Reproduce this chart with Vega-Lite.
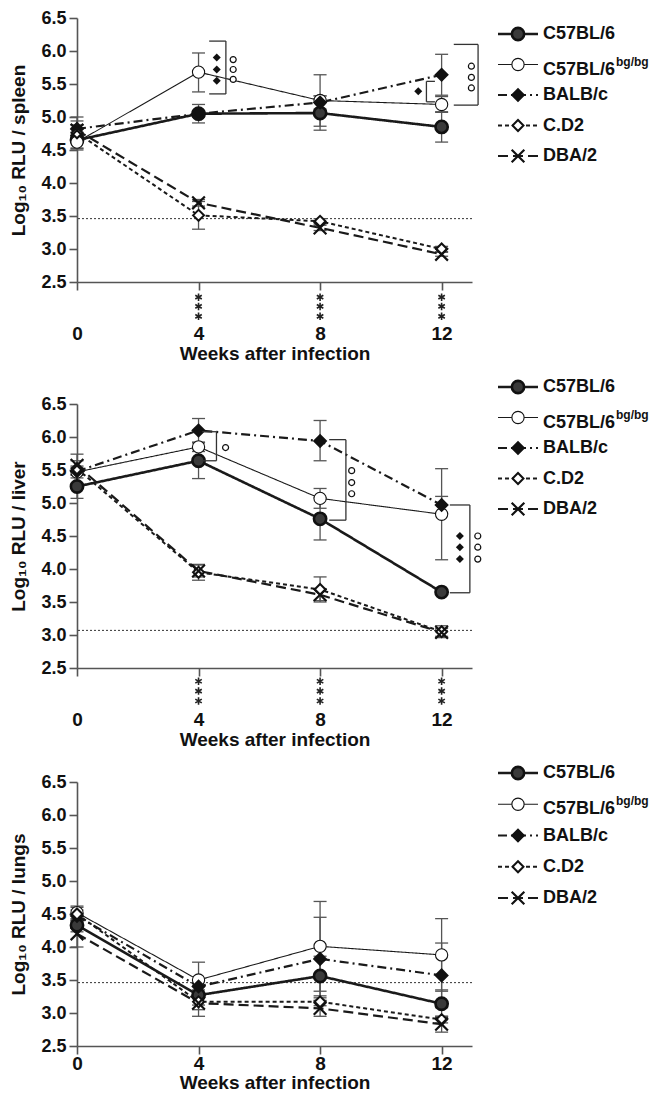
{
  "$schema": "https://vega.github.io/schema/vega-lite/v6.json",
  "background": "white",
  "padding": {"left": 9, "top": 9, "right": 0, "bottom": 0},
  "config": {
    "font": "Liberation Sans",
    "view": {"stroke": null},
    "scale": {"pointPadding": 0},
    "axis": {"domainColor": "#555", "domainWidth": 1.6, "tickColor": "#555", "tickWidth": 1.6, "tickSize": 8, "labelFont": "Liberation Sans", "labelFontWeight": "bold", "labelColor": "#111", "titleFont": "Liberation Sans", "titleFontWeight": "bold", "titleFontSize": 19, "titleColor": "#111", "grid": false, "labelFlush": false, "labelOverlap": false},
    "axisX": {"labelFontSize": 19, "titlePadding": 1},
    "axisY": {"labelFontSize": 18, "labelPadding": 3, "titlePadding": 12}
  },
  "datasets": {
    "main": [
      {"organ": "spleen", "strain": "C57BL/6", "week": 0, "mean": 4.65, "lo": 4.53, "hi": 4.77},
      {"organ": "spleen", "strain": "C57BL/6", "week": 4, "mean": 5.05, "lo": 4.91, "hi": 5.19},
      {"organ": "spleen", "strain": "C57BL/6", "week": 8, "mean": 5.06, "lo": 4.80, "hi": 5.32},
      {"organ": "spleen", "strain": "C57BL/6", "week": 12, "mean": 4.85, "lo": 4.62, "hi": 5.08},
      {"organ": "spleen", "strain": "C57BL/6bg/bg", "week": 0, "mean": 4.62, "lo": 4.50, "hi": 4.74},
      {"organ": "spleen", "strain": "C57BL/6bg/bg", "week": 4, "mean": 5.68, "lo": 5.38, "hi": 5.97},
      {"organ": "spleen", "strain": "C57BL/6bg/bg", "week": 8, "mean": 5.25, "lo": 4.86, "hi": 5.64},
      {"organ": "spleen", "strain": "C57BL/6bg/bg", "week": 12, "mean": 5.19, "lo": 5.07, "hi": 5.31},
      {"organ": "spleen", "strain": "BALB/c", "week": 0, "mean": 4.82, "lo": 4.70, "hi": 4.94},
      {"organ": "spleen", "strain": "BALB/c", "week": 4, "mean": 5.05, "lo": 5.00, "hi": 5.10},
      {"organ": "spleen", "strain": "BALB/c", "week": 8, "mean": 5.22, "lo": 5.12, "hi": 5.32},
      {"organ": "spleen", "strain": "BALB/c", "week": 12, "mean": 5.64, "lo": 5.33, "hi": 5.95},
      {"organ": "spleen", "strain": "C.D2", "week": 0, "mean": 4.76, "lo": 4.52, "hi": 5.00},
      {"organ": "spleen", "strain": "C.D2", "week": 4, "mean": 3.51, "lo": 3.30, "hi": 3.72},
      {"organ": "spleen", "strain": "C.D2", "week": 8, "mean": 3.42, "lo": 3.38, "hi": 3.46},
      {"organ": "spleen", "strain": "C.D2", "week": 12, "mean": 3.00, "lo": 2.96, "hi": 3.04},
      {"organ": "spleen", "strain": "DBA/2", "week": 0, "mean": 4.80, "lo": 4.72, "hi": 4.88},
      {"organ": "spleen", "strain": "DBA/2", "week": 4, "mean": 3.70, "lo": 3.65, "hi": 3.75},
      {"organ": "spleen", "strain": "DBA/2", "week": 8, "mean": 3.32, "lo": 3.28, "hi": 3.36},
      {"organ": "spleen", "strain": "DBA/2", "week": 12, "mean": 2.92, "lo": 2.89, "hi": 2.95},
      {"organ": "liver", "strain": "C57BL/6", "week": 0, "mean": 5.25, "lo": 5.07, "hi": 5.43},
      {"organ": "liver", "strain": "C57BL/6", "week": 4, "mean": 5.64, "lo": 5.37, "hi": 5.91},
      {"organ": "liver", "strain": "C57BL/6", "week": 8, "mean": 4.76, "lo": 4.44, "hi": 5.08},
      {"organ": "liver", "strain": "C57BL/6", "week": 12, "mean": 3.65, "lo": 3.62, "hi": 3.68},
      {"organ": "liver", "strain": "C57BL/6bg/bg", "week": 0, "mean": 5.47, "lo": 5.38, "hi": 5.56},
      {"organ": "liver", "strain": "C57BL/6bg/bg", "week": 4, "mean": 5.85, "lo": 5.78, "hi": 5.92},
      {"organ": "liver", "strain": "C57BL/6bg/bg", "week": 8, "mean": 5.07, "lo": 4.92, "hi": 5.22},
      {"organ": "liver", "strain": "C57BL/6bg/bg", "week": 12, "mean": 4.83, "lo": 4.14, "hi": 5.52},
      {"organ": "liver", "strain": "BALB/c", "week": 0, "mean": 5.48, "lo": 5.42, "hi": 5.54},
      {"organ": "liver", "strain": "BALB/c", "week": 4, "mean": 6.10, "lo": 5.92, "hi": 6.28},
      {"organ": "liver", "strain": "BALB/c", "week": 8, "mean": 5.94, "lo": 5.64, "hi": 6.25},
      {"organ": "liver", "strain": "BALB/c", "week": 12, "mean": 4.97, "lo": 4.84, "hi": 5.10},
      {"organ": "liver", "strain": "C.D2", "week": 0, "mean": 5.52, "lo": 5.30, "hi": 5.74},
      {"organ": "liver", "strain": "C.D2", "week": 4, "mean": 3.95, "lo": 3.83, "hi": 4.07},
      {"organ": "liver", "strain": "C.D2", "week": 8, "mean": 3.69, "lo": 3.50, "hi": 3.88},
      {"organ": "liver", "strain": "C.D2", "week": 12, "mean": 3.05, "lo": 2.96, "hi": 3.14},
      {"organ": "liver", "strain": "DBA/2", "week": 0, "mean": 5.57, "lo": 5.50, "hi": 5.64},
      {"organ": "liver", "strain": "DBA/2", "week": 4, "mean": 3.97, "lo": 3.88, "hi": 4.06},
      {"organ": "liver", "strain": "DBA/2", "week": 8, "mean": 3.61, "lo": 3.52, "hi": 3.70},
      {"organ": "liver", "strain": "DBA/2", "week": 12, "mean": 3.04, "lo": 2.98, "hi": 3.10},
      {"organ": "lungs", "strain": "C57BL/6", "week": 0, "mean": 4.33, "lo": 4.23, "hi": 4.43},
      {"organ": "lungs", "strain": "C57BL/6", "week": 4, "mean": 3.27, "lo": 3.12, "hi": 3.42},
      {"organ": "lungs", "strain": "C57BL/6", "week": 8, "mean": 3.56, "lo": 3.26, "hi": 3.86},
      {"organ": "lungs", "strain": "C57BL/6", "week": 12, "mean": 3.14, "lo": 2.93, "hi": 3.35},
      {"organ": "lungs", "strain": "C57BL/6bg/bg", "week": 0, "mean": 4.52, "lo": 4.42, "hi": 4.62},
      {"organ": "lungs", "strain": "C57BL/6bg/bg", "week": 4, "mean": 3.50, "lo": 3.23, "hi": 3.77},
      {"organ": "lungs", "strain": "C57BL/6bg/bg", "week": 8, "mean": 4.01, "lo": 3.33, "hi": 4.69},
      {"organ": "lungs", "strain": "C57BL/6bg/bg", "week": 12, "mean": 3.88, "lo": 3.33, "hi": 4.43},
      {"organ": "lungs", "strain": "BALB/c", "week": 0, "mean": 4.47, "lo": 4.38, "hi": 4.56},
      {"organ": "lungs", "strain": "BALB/c", "week": 4, "mean": 3.40, "lo": 3.30, "hi": 3.50},
      {"organ": "lungs", "strain": "BALB/c", "week": 8, "mean": 3.82, "lo": 3.19, "hi": 4.45},
      {"organ": "lungs", "strain": "BALB/c", "week": 12, "mean": 3.57, "lo": 3.08, "hi": 4.06},
      {"organ": "lungs", "strain": "C.D2", "week": 0, "mean": 4.50, "lo": 4.40, "hi": 4.60},
      {"organ": "lungs", "strain": "C.D2", "week": 4, "mean": 3.17, "lo": 3.05, "hi": 3.29},
      {"organ": "lungs", "strain": "C.D2", "week": 8, "mean": 3.17, "lo": 3.11, "hi": 3.23},
      {"organ": "lungs", "strain": "C.D2", "week": 12, "mean": 2.90, "lo": 2.85, "hi": 2.95},
      {"organ": "lungs", "strain": "DBA/2", "week": 0, "mean": 4.20, "lo": 4.00, "hi": 4.40},
      {"organ": "lungs", "strain": "DBA/2", "week": 4, "mean": 3.15, "lo": 2.95, "hi": 3.35},
      {"organ": "lungs", "strain": "DBA/2", "week": 8, "mean": 3.07, "lo": 2.95, "hi": 3.19},
      {"organ": "lungs", "strain": "DBA/2", "week": 12, "mean": 2.83, "lo": 2.71, "hi": 2.95}
    ],
    "limits": [
      {"organ": "spleen", "limit": 3.46},
      {"organ": "liver", "limit": 3.07},
      {"organ": "lungs", "limit": 3.46}
    ],
    "brackets": [
      {"organ": "spleen", "x": 4.35, "x2": 4.9, "y": 6.15, "y2": 6.15},
      {"organ": "spleen", "x": 4.9, "x2": 4.9, "y": 5.35, "y2": 6.15},
      {"organ": "spleen", "x": 4.35, "x2": 4.9, "y": 5.35, "y2": 5.35},
      {"organ": "spleen", "x": 11.5, "x2": 11.78, "y": 5.54, "y2": 5.54},
      {"organ": "spleen", "x": 11.5, "x2": 11.5, "y": 5.23, "y2": 5.54},
      {"organ": "spleen", "x": 11.5, "x2": 11.78, "y": 5.23, "y2": 5.23},
      {"organ": "spleen", "x": 12.4, "x2": 13.2, "y": 6.10, "y2": 6.10},
      {"organ": "spleen", "x": 13.2, "x2": 13.2, "y": 5.18, "y2": 6.10},
      {"organ": "spleen", "x": 12.4, "x2": 13.2, "y": 5.18, "y2": 5.18},
      {"organ": "liver", "x": 4.12, "x2": 4.59, "y": 6.08, "y2": 6.08},
      {"organ": "liver", "x": 4.59, "x2": 4.59, "y": 5.64, "y2": 6.08},
      {"organ": "liver", "x": 4.12, "x2": 4.59, "y": 5.64, "y2": 5.64},
      {"organ": "liver", "x": 8.3, "x2": 8.85, "y": 5.96, "y2": 5.96},
      {"organ": "liver", "x": 8.85, "x2": 8.85, "y": 4.74, "y2": 5.96},
      {"organ": "liver", "x": 8.3, "x2": 8.85, "y": 4.74, "y2": 4.74},
      {"organ": "liver", "x": 12.27, "x2": 12.93, "y": 4.97, "y2": 4.97},
      {"organ": "liver", "x": 12.93, "x2": 12.93, "y": 3.64, "y2": 4.97},
      {"organ": "liver", "x": 12.27, "x2": 12.93, "y": 3.64, "y2": 3.64}
    ],
    "sig": [
      {"organ": "spleen", "kind": "diamond", "x": 4.6, "y": 5.90},
      {"organ": "spleen", "kind": "diamond", "x": 4.6, "y": 5.72},
      {"organ": "spleen", "kind": "diamond", "x": 4.6, "y": 5.55},
      {"organ": "spleen", "kind": "diamond", "x": 11.23, "y": 5.39},
      {"organ": "spleen", "kind": "circle", "x": 5.14, "y": 5.87},
      {"organ": "spleen", "kind": "circle", "x": 5.14, "y": 5.72},
      {"organ": "spleen", "kind": "circle", "x": 5.14, "y": 5.57},
      {"organ": "spleen", "kind": "circle", "x": 12.98, "y": 5.77},
      {"organ": "spleen", "kind": "circle", "x": 12.98, "y": 5.60},
      {"organ": "spleen", "kind": "circle", "x": 12.98, "y": 5.44},
      {"organ": "liver", "kind": "circle", "x": 4.89, "y": 5.84},
      {"organ": "liver", "kind": "circle", "x": 9.04, "y": 5.49},
      {"organ": "liver", "kind": "circle", "x": 9.04, "y": 5.31},
      {"organ": "liver", "kind": "circle", "x": 9.04, "y": 5.14},
      {"organ": "liver", "kind": "diamond", "x": 12.6, "y": 4.50},
      {"organ": "liver", "kind": "diamond", "x": 12.6, "y": 4.33},
      {"organ": "liver", "kind": "diamond", "x": 12.6, "y": 4.15},
      {"organ": "liver", "kind": "circle", "x": 13.19, "y": 4.50},
      {"organ": "liver", "kind": "circle", "x": 13.19, "y": 4.33},
      {"organ": "liver", "kind": "circle", "x": 13.19, "y": 4.15}
    ],
    "stars": [
      {"organ": "spleen", "week": 4, "y": 2.27}, {"organ": "spleen", "week": 4, "y": 2.13}, {"organ": "spleen", "week": 4, "y": 1.98},
      {"organ": "spleen", "week": 8, "y": 2.27}, {"organ": "spleen", "week": 8, "y": 2.13}, {"organ": "spleen", "week": 8, "y": 1.98},
      {"organ": "spleen", "week": 12, "y": 2.27}, {"organ": "spleen", "week": 12, "y": 2.13}, {"organ": "spleen", "week": 12, "y": 1.98},
      {"organ": "liver", "week": 4, "y": 2.30}, {"organ": "liver", "week": 4, "y": 2.15}, {"organ": "liver", "week": 4, "y": 2.0},
      {"organ": "liver", "week": 8, "y": 2.30}, {"organ": "liver", "week": 8, "y": 2.15}, {"organ": "liver", "week": 8, "y": 2.0},
      {"organ": "liver", "week": 12, "y": 2.30}, {"organ": "liver", "week": 12, "y": 2.15}, {"organ": "liver", "week": 12, "y": 2.0}
    ],
    "legend": [
      {"strain": "C57BL/6", "label": "C57BL/6", "sup": ""},
      {"strain": "C57BL/6bg/bg", "label": "C57BL/6", "sup": "bg/bg"},
      {"strain": "BALB/c", "label": "BALB/c", "sup": ""},
      {"strain": "C.D2", "label": "C.D2", "sup": ""},
      {"strain": "DBA/2", "label": "DBA/2", "sup": ""}
    ]
  },
  "spacing": 12,
  "resolve": {"scale": {"x": "independent", "y": "independent"}},
  "vconcat": [
    {
      "bounds": "flush",
      "spacing": 26,
      "resolve": {"scale": {"x": "independent", "y": "independent"}},
      "hconcat": [
        {
          "width": 395, "height": 264,
          "layer": [
            {"data": {"name": "main"}, "transform": [{"filter": "datum.organ === 'spleen'"}], "mark": {"type": "rule", "color": "#555", "strokeWidth": 1.3}, "encoding": {
              "x": {"field": "week", "type": "quantitative", "title": "Weeks after infection", "scale": {"domain": [0, 13], "nice": false, "zero": false}, "axis": {"values": [0, 4, 8, 12], "labelPadding": 34, "labelOverlap": false}},
              "y": {"field": "lo", "type": "quantitative", "title": "Log₁₀ RLU / spleen", "scale": {"domain": [2.5, 6.5], "nice": false, "zero": false}, "axis": {"values": [2.5, 3, 3.5, 4, 4.5, 5, 5.5, 6, 6.5], "format": ".1f", "labelOverlap": false}},
              "y2": {"field": "hi"}}},
            {"data": {"name": "limits"}, "transform": [{"filter": "datum.organ === 'spleen'"}], "mark": {"type": "rule", "color": "#333", "strokeWidth": 1, "strokeDash": [2, 2]}, "encoding": {"y": {"field": "limit", "type": "quantitative", "title": "Log₁₀ RLU / spleen", "axis": {"values": [2.5, 3, 3.5, 4, 4.5, 5, 5.5, 6, 6.5], "format": ".1f", "labelOverlap": false}}}},
            {"data": {"name": "main"}, "transform": [{"filter": "datum.organ === 'spleen'"}], "mark": {"type": "tick", "orient": "horizontal", "color": "#555", "size": 13, "thickness": 1.3, "opacity": 1}, "encoding": {"x": {"field": "week", "type": "quantitative", "title": "Weeks after infection", "axis": {"values": [0, 4, 8, 12], "labelPadding": 34, "labelOverlap": false}}, "y": {"field": "lo", "type": "quantitative", "title": "Log₁₀ RLU / spleen", "axis": {"values": [2.5, 3, 3.5, 4, 4.5, 5, 5.5, 6, 6.5], "format": ".1f", "labelOverlap": false}}}},
            {"data": {"name": "main"}, "transform": [{"filter": "datum.organ === 'spleen'"}], "mark": {"type": "tick", "orient": "horizontal", "color": "#555", "size": 13, "thickness": 1.3, "opacity": 1}, "encoding": {"x": {"field": "week", "type": "quantitative", "title": "Weeks after infection", "axis": {"values": [0, 4, 8, 12], "labelPadding": 34, "labelOverlap": false}}, "y": {"field": "hi", "type": "quantitative", "title": "Log₁₀ RLU / spleen", "axis": {"values": [2.5, 3, 3.5, 4, 4.5, 5, 5.5, 6, 6.5], "format": ".1f", "labelOverlap": false}}}},
            {"data": {"name": "main"}, "transform": [{"filter": "datum.organ === 'spleen'"}], "mark": {"type": "line", "color": "#1a1a1a"}, "encoding": {
              "x": {"field": "week", "type": "quantitative", "title": "Weeks after infection", "axis": {"values": [0, 4, 8, 12], "labelPadding": 34, "labelOverlap": false}},
              "y": {"field": "mean", "type": "quantitative", "title": "Log₁₀ RLU / spleen", "axis": {"values": [2.5, 3, 3.5, 4, 4.5, 5, 5.5, 6, 6.5], "format": ".1f", "labelOverlap": false}},
              "strokeDash": {"field": "strain", "type": "nominal", "scale": {"domain": ["C57BL/6", "C57BL/6bg/bg", "BALB/c", "C.D2", "DBA/2"], "range": [[1, 0], [1, 0], [9, 4, 2, 4], [4, 3], [10, 5]]}, "legend": null},
              "strokeWidth": {"field": "strain", "type": "nominal", "scale": {"type": "ordinal", "domain": ["C57BL/6", "C57BL/6bg/bg", "BALB/c", "C.D2", "DBA/2"], "range": [2.6, 1.1, 2.2, 2, 2.2]}, "legend": null}}},
            {"data": {"name": "main"}, "transform": [{"filter": "datum.organ === 'spleen'"}], "mark": {"type": "point", "stroke": "#111", "opacity": 1, "fillOpacity": 1, "strokeOpacity": 1}, "encoding": {
              "x": {"field": "week", "type": "quantitative", "title": "Weeks after infection", "axis": {"values": [0, 4, 8, 12], "labelPadding": 34, "labelOverlap": false}},
              "y": {"field": "mean", "type": "quantitative", "title": "Log₁₀ RLU / spleen", "axis": {"values": [2.5, 3, 3.5, 4, 4.5, 5, 5.5, 6, 6.5], "format": ".1f", "labelOverlap": false}},
              "shape": {"field": "strain", "type": "nominal", "scale": {"domain": ["C57BL/6", "C57BL/6bg/bg", "BALB/c", "C.D2", "DBA/2"], "range": ["circle", "circle", "diamond", "diamond", "M-1,-1L1,1M-1,1L1,-1"]}, "legend": null},
              "fill": {"field": "strain", "type": "nominal", "scale": {"domain": ["C57BL/6", "C57BL/6bg/bg", "BALB/c", "C.D2", "DBA/2"], "range": ["#3a3a3a", "#ffffff", "#111111", "#ffffff", "#111111"]}, "legend": null},
              "size": {"field": "strain", "type": "nominal", "scale": {"type": "ordinal", "domain": ["C57BL/6", "C57BL/6bg/bg", "BALB/c", "C.D2", "DBA/2"], "range": [150, 150, 130, 120, 160]}, "legend": null},
              "strokeWidth": {"field": "strain", "type": "nominal", "scale": {"type": "ordinal", "domain": ["C57BL/6", "C57BL/6bg/bg", "BALB/c", "C.D2", "DBA/2"], "range": [1.2, 1.2, 1.2, 1.3, 2.4]}, "legend": null}}},
            {"data": {"name": "brackets"}, "transform": [{"filter": "datum.organ === 'spleen'"}], "mark": {"type": "rule", "color": "#333", "strokeWidth": 1.3}, "encoding": {"x": {"field": "x", "type": "quantitative", "title": "Weeks after infection", "axis": {"values": [0, 4, 8, 12], "labelPadding": 34, "labelOverlap": false}}, "x2": {"field": "x2"}, "y": {"field": "y", "type": "quantitative", "title": "Log₁₀ RLU / spleen", "axis": {"values": [2.5, 3, 3.5, 4, 4.5, 5, 5.5, 6, 6.5], "format": ".1f", "labelOverlap": false}}, "y2": {"field": "y2"}}},
            {"data": {"name": "sig"}, "transform": [{"filter": "datum.organ === 'spleen' && datum.kind === 'diamond'"}], "mark": {"type": "point", "shape": "diamond", "filled": true, "color": "#111", "size": 64, "opacity": 1}, "encoding": {"x": {"field": "x", "type": "quantitative", "title": "Weeks after infection", "axis": {"values": [0, 4, 8, 12], "labelPadding": 34, "labelOverlap": false}}, "y": {"field": "y", "type": "quantitative", "title": "Log₁₀ RLU / spleen", "axis": {"values": [2.5, 3, 3.5, 4, 4.5, 5, 5.5, 6, 6.5], "format": ".1f", "labelOverlap": false}}}},
            {"data": {"name": "sig"}, "transform": [{"filter": "datum.organ === 'spleen' && datum.kind === 'circle'"}], "mark": {"type": "point", "shape": "circle", "fill": "white", "stroke": "#111", "strokeWidth": 1.2, "size": 36, "opacity": 1}, "encoding": {"x": {"field": "x", "type": "quantitative", "title": "Weeks after infection", "axis": {"values": [0, 4, 8, 12], "labelPadding": 34, "labelOverlap": false}}, "y": {"field": "y", "type": "quantitative", "title": "Log₁₀ RLU / spleen", "axis": {"values": [2.5, 3, 3.5, 4, 4.5, 5, 5.5, 6, 6.5], "format": ".1f", "labelOverlap": false}}}},
            {"data": {"name": "stars"}, "transform": [{"filter": "datum.organ === 'spleen'"}], "mark": {"type": "point", "shape": "M0,-1L0,1M-0.87,-0.5L0.87,0.5M-0.87,0.5L0.87,-0.5", "stroke": "#222", "strokeWidth": 1.6, "size": 56, "opacity": 1}, "encoding": {"x": {"field": "week", "type": "quantitative", "title": "Weeks after infection", "axis": {"values": [0, 4, 8, 12], "labelPadding": 34, "labelOverlap": false}}, "y": {"field": "y", "type": "quantitative", "title": "Log₁₀ RLU / spleen", "axis": {"values": [2.5, 3, 3.5, 4, 4.5, 5, 5.5, 6, 6.5], "format": ".1f", "labelOverlap": false}}}}
          ]
        },
        {
          "width": 150, "height": 264,
          "data": {"name": "legend"},
          "encoding": {"y": {"field": "strain", "type": "nominal", "scale": {"type": "point", "padding": 0, "domain": ["C57BL/6", "C57BL/6bg/bg", "BALB/c", "C.D2", "DBA/2"], "range": [16, 138]}, "axis": null}},
          "layer": [
            {"mark": {"type": "rule", "color": "#1a1a1a"}, "encoding": {
              "x": {"datum": 0, "type": "quantitative", "scale": {"domain": [0, 150], "range": [0, 150], "nice": false, "zero": false}, "axis": null},
              "x2": {"datum": 40},
              "strokeDash": {"field": "strain", "type": "nominal", "scale": {"domain": ["C57BL/6", "C57BL/6bg/bg", "BALB/c", "C.D2", "DBA/2"], "range": [[1, 0], [1, 0], [4, 3], [4, 3], [10, 5]]}, "legend": null},
              "strokeWidth": {"field": "strain", "type": "nominal", "scale": {"type": "ordinal", "domain": ["C57BL/6", "C57BL/6bg/bg", "BALB/c", "C.D2", "DBA/2"], "range": [2.6, 1.1, 2.2, 2, 2.2]}, "legend": null}}},
            {"mark": {"type": "point", "stroke": "#111", "opacity": 1, "fillOpacity": 1, "strokeOpacity": 1}, "encoding": {
              "x": {"datum": 20, "type": "quantitative", "axis": null},
              "shape": {"field": "strain", "type": "nominal", "scale": {"domain": ["C57BL/6", "C57BL/6bg/bg", "BALB/c", "C.D2", "DBA/2"], "range": ["circle", "circle", "diamond", "diamond", "M-1,-1L1,1M-1,1L1,-1"]}, "legend": null},
              "fill": {"field": "strain", "type": "nominal", "scale": {"domain": ["C57BL/6", "C57BL/6bg/bg", "BALB/c", "C.D2", "DBA/2"], "range": ["#3a3a3a", "#ffffff", "#111111", "#ffffff", "#111111"]}, "legend": null},
              "size": {"field": "strain", "type": "nominal", "scale": {"type": "ordinal", "domain": ["C57BL/6", "C57BL/6bg/bg", "BALB/c", "C.D2", "DBA/2"], "range": [150, 150, 130, 120, 160]}, "legend": null},
              "strokeWidth": {"field": "strain", "type": "nominal", "scale": {"type": "ordinal", "domain": ["C57BL/6", "C57BL/6bg/bg", "BALB/c", "C.D2", "DBA/2"], "range": [1.2, 1.2, 1.2, 1.3, 2.4]}, "legend": null}}},
            {"transform": [{"filter": "datum.sup === ''"}], "mark": {"type": "text", "align": "left", "baseline": "middle", "fontSize": 18, "fontWeight": "bold", "color": "#111"}, "encoding": {"x": {"datum": 45, "type": "quantitative", "axis": null}, "text": {"field": "label"}}},
            {"transform": [{"filter": "datum.sup !== ''"}], "mark": {"type": "text", "align": "left", "baseline": "middle", "fontSize": 18, "fontWeight": "bold", "color": "#111", "dy": 5}, "encoding": {"x": {"datum": 45, "type": "quantitative", "axis": null}, "text": {"field": "label"}}},
            {"transform": [{"filter": "datum.sup !== ''"}], "mark": {"type": "text", "align": "left", "baseline": "middle", "fontSize": 12, "fontWeight": "bold", "color": "#111", "dy": -3}, "encoding": {"x": {"datum": 118, "type": "quantitative", "axis": null}, "text": {"field": "sup"}}}
          ]
        }
      ]
    },
    {
      "bounds": "flush",
      "spacing": 26,
      "resolve": {"scale": {"x": "independent", "y": "independent"}},
      "hconcat": [
        {
          "width": 395, "height": 264,
          "layer": [
            {"data": {"name": "main"}, "transform": [{"filter": "datum.organ === 'liver'"}], "mark": {"type": "rule", "color": "#555", "strokeWidth": 1.3}, "encoding": {
              "x": {"field": "week", "type": "quantitative", "title": "Weeks after infection", "scale": {"domain": [0, 13], "nice": false, "zero": false}, "axis": {"values": [0, 4, 8, 12], "labelPadding": 34, "labelOverlap": false}},
              "y": {"field": "lo", "type": "quantitative", "title": "Log₁₀ RLU / liver", "scale": {"domain": [2.5, 6.5], "nice": false, "zero": false}, "axis": {"values": [2.5, 3, 3.5, 4, 4.5, 5, 5.5, 6, 6.5], "format": ".1f", "labelOverlap": false}},
              "y2": {"field": "hi"}}},
            {"data": {"name": "limits"}, "transform": [{"filter": "datum.organ === 'liver'"}], "mark": {"type": "rule", "color": "#333", "strokeWidth": 1, "strokeDash": [2, 2]}, "encoding": {"y": {"field": "limit", "type": "quantitative", "title": "Log₁₀ RLU / liver", "axis": {"values": [2.5, 3, 3.5, 4, 4.5, 5, 5.5, 6, 6.5], "format": ".1f", "labelOverlap": false}}}},
            {"data": {"name": "main"}, "transform": [{"filter": "datum.organ === 'liver'"}], "mark": {"type": "tick", "orient": "horizontal", "color": "#555", "size": 13, "thickness": 1.3, "opacity": 1}, "encoding": {"x": {"field": "week", "type": "quantitative", "title": "Weeks after infection", "axis": {"values": [0, 4, 8, 12], "labelPadding": 34, "labelOverlap": false}}, "y": {"field": "lo", "type": "quantitative", "title": "Log₁₀ RLU / liver", "axis": {"values": [2.5, 3, 3.5, 4, 4.5, 5, 5.5, 6, 6.5], "format": ".1f", "labelOverlap": false}}}},
            {"data": {"name": "main"}, "transform": [{"filter": "datum.organ === 'liver'"}], "mark": {"type": "tick", "orient": "horizontal", "color": "#555", "size": 13, "thickness": 1.3, "opacity": 1}, "encoding": {"x": {"field": "week", "type": "quantitative", "title": "Weeks after infection", "axis": {"values": [0, 4, 8, 12], "labelPadding": 34, "labelOverlap": false}}, "y": {"field": "hi", "type": "quantitative", "title": "Log₁₀ RLU / liver", "axis": {"values": [2.5, 3, 3.5, 4, 4.5, 5, 5.5, 6, 6.5], "format": ".1f", "labelOverlap": false}}}},
            {"data": {"name": "main"}, "transform": [{"filter": "datum.organ === 'liver'"}], "mark": {"type": "line", "color": "#1a1a1a"}, "encoding": {
              "x": {"field": "week", "type": "quantitative", "title": "Weeks after infection", "axis": {"values": [0, 4, 8, 12], "labelPadding": 34, "labelOverlap": false}},
              "y": {"field": "mean", "type": "quantitative", "title": "Log₁₀ RLU / liver", "axis": {"values": [2.5, 3, 3.5, 4, 4.5, 5, 5.5, 6, 6.5], "format": ".1f", "labelOverlap": false}},
              "strokeDash": {"field": "strain", "type": "nominal", "scale": {"domain": ["C57BL/6", "C57BL/6bg/bg", "BALB/c", "C.D2", "DBA/2"], "range": [[1, 0], [1, 0], [9, 4, 2, 4], [4, 3], [10, 5]]}, "legend": null},
              "strokeWidth": {"field": "strain", "type": "nominal", "scale": {"type": "ordinal", "domain": ["C57BL/6", "C57BL/6bg/bg", "BALB/c", "C.D2", "DBA/2"], "range": [2.6, 1.1, 2.2, 2, 2.2]}, "legend": null}}},
            {"data": {"name": "main"}, "transform": [{"filter": "datum.organ === 'liver'"}], "mark": {"type": "point", "stroke": "#111", "opacity": 1, "fillOpacity": 1, "strokeOpacity": 1}, "encoding": {
              "x": {"field": "week", "type": "quantitative", "title": "Weeks after infection", "axis": {"values": [0, 4, 8, 12], "labelPadding": 34, "labelOverlap": false}},
              "y": {"field": "mean", "type": "quantitative", "title": "Log₁₀ RLU / liver", "axis": {"values": [2.5, 3, 3.5, 4, 4.5, 5, 5.5, 6, 6.5], "format": ".1f", "labelOverlap": false}},
              "shape": {"field": "strain", "type": "nominal", "scale": {"domain": ["C57BL/6", "C57BL/6bg/bg", "BALB/c", "C.D2", "DBA/2"], "range": ["circle", "circle", "diamond", "diamond", "M-1,-1L1,1M-1,1L1,-1"]}, "legend": null},
              "fill": {"field": "strain", "type": "nominal", "scale": {"domain": ["C57BL/6", "C57BL/6bg/bg", "BALB/c", "C.D2", "DBA/2"], "range": ["#3a3a3a", "#ffffff", "#111111", "#ffffff", "#111111"]}, "legend": null},
              "size": {"field": "strain", "type": "nominal", "scale": {"type": "ordinal", "domain": ["C57BL/6", "C57BL/6bg/bg", "BALB/c", "C.D2", "DBA/2"], "range": [150, 150, 130, 120, 160]}, "legend": null},
              "strokeWidth": {"field": "strain", "type": "nominal", "scale": {"type": "ordinal", "domain": ["C57BL/6", "C57BL/6bg/bg", "BALB/c", "C.D2", "DBA/2"], "range": [1.2, 1.2, 1.2, 1.3, 2.4]}, "legend": null}}},
            {"data": {"name": "brackets"}, "transform": [{"filter": "datum.organ === 'liver'"}], "mark": {"type": "rule", "color": "#333", "strokeWidth": 1.3}, "encoding": {"x": {"field": "x", "type": "quantitative", "title": "Weeks after infection", "axis": {"values": [0, 4, 8, 12], "labelPadding": 34, "labelOverlap": false}}, "x2": {"field": "x2"}, "y": {"field": "y", "type": "quantitative", "title": "Log₁₀ RLU / liver", "axis": {"values": [2.5, 3, 3.5, 4, 4.5, 5, 5.5, 6, 6.5], "format": ".1f", "labelOverlap": false}}, "y2": {"field": "y2"}}},
            {"data": {"name": "sig"}, "transform": [{"filter": "datum.organ === 'liver' && datum.kind === 'diamond'"}], "mark": {"type": "point", "shape": "diamond", "filled": true, "color": "#111", "size": 64, "opacity": 1}, "encoding": {"x": {"field": "x", "type": "quantitative", "title": "Weeks after infection", "axis": {"values": [0, 4, 8, 12], "labelPadding": 34, "labelOverlap": false}}, "y": {"field": "y", "type": "quantitative", "title": "Log₁₀ RLU / liver", "axis": {"values": [2.5, 3, 3.5, 4, 4.5, 5, 5.5, 6, 6.5], "format": ".1f", "labelOverlap": false}}}},
            {"data": {"name": "sig"}, "transform": [{"filter": "datum.organ === 'liver' && datum.kind === 'circle'"}], "mark": {"type": "point", "shape": "circle", "fill": "white", "stroke": "#111", "strokeWidth": 1.2, "size": 36, "opacity": 1}, "encoding": {"x": {"field": "x", "type": "quantitative", "title": "Weeks after infection", "axis": {"values": [0, 4, 8, 12], "labelPadding": 34, "labelOverlap": false}}, "y": {"field": "y", "type": "quantitative", "title": "Log₁₀ RLU / liver", "axis": {"values": [2.5, 3, 3.5, 4, 4.5, 5, 5.5, 6, 6.5], "format": ".1f", "labelOverlap": false}}}},
            {"data": {"name": "stars"}, "transform": [{"filter": "datum.organ === 'liver'"}], "mark": {"type": "point", "shape": "M0,-1L0,1M-0.87,-0.5L0.87,0.5M-0.87,0.5L0.87,-0.5", "stroke": "#222", "strokeWidth": 1.6, "size": 56, "opacity": 1}, "encoding": {"x": {"field": "week", "type": "quantitative", "title": "Weeks after infection", "axis": {"values": [0, 4, 8, 12], "labelPadding": 34, "labelOverlap": false}}, "y": {"field": "y", "type": "quantitative", "title": "Log₁₀ RLU / liver", "axis": {"values": [2.5, 3, 3.5, 4, 4.5, 5, 5.5, 6, 6.5], "format": ".1f", "labelOverlap": false}}}}
          ]
        },
        {
          "width": 150, "height": 264,
          "data": {"name": "legend"},
          "encoding": {"y": {"field": "strain", "type": "nominal", "scale": {"type": "point", "padding": 0, "domain": ["C57BL/6", "C57BL/6bg/bg", "BALB/c", "C.D2", "DBA/2"], "range": [-17, 105]}, "axis": null}},
          "layer": [
            {"mark": {"type": "rule", "color": "#1a1a1a"}, "encoding": {
              "x": {"datum": 0, "type": "quantitative", "scale": {"domain": [0, 150], "range": [0, 150], "nice": false, "zero": false}, "axis": null},
              "x2": {"datum": 40},
              "strokeDash": {"field": "strain", "type": "nominal", "scale": {"domain": ["C57BL/6", "C57BL/6bg/bg", "BALB/c", "C.D2", "DBA/2"], "range": [[1, 0], [1, 0], [4, 3], [4, 3], [10, 5]]}, "legend": null},
              "strokeWidth": {"field": "strain", "type": "nominal", "scale": {"type": "ordinal", "domain": ["C57BL/6", "C57BL/6bg/bg", "BALB/c", "C.D2", "DBA/2"], "range": [2.6, 1.1, 2.2, 2, 2.2]}, "legend": null}}},
            {"mark": {"type": "point", "stroke": "#111", "opacity": 1, "fillOpacity": 1, "strokeOpacity": 1}, "encoding": {
              "x": {"datum": 20, "type": "quantitative", "axis": null},
              "shape": {"field": "strain", "type": "nominal", "scale": {"domain": ["C57BL/6", "C57BL/6bg/bg", "BALB/c", "C.D2", "DBA/2"], "range": ["circle", "circle", "diamond", "diamond", "M-1,-1L1,1M-1,1L1,-1"]}, "legend": null},
              "fill": {"field": "strain", "type": "nominal", "scale": {"domain": ["C57BL/6", "C57BL/6bg/bg", "BALB/c", "C.D2", "DBA/2"], "range": ["#3a3a3a", "#ffffff", "#111111", "#ffffff", "#111111"]}, "legend": null},
              "size": {"field": "strain", "type": "nominal", "scale": {"type": "ordinal", "domain": ["C57BL/6", "C57BL/6bg/bg", "BALB/c", "C.D2", "DBA/2"], "range": [150, 150, 130, 120, 160]}, "legend": null},
              "strokeWidth": {"field": "strain", "type": "nominal", "scale": {"type": "ordinal", "domain": ["C57BL/6", "C57BL/6bg/bg", "BALB/c", "C.D2", "DBA/2"], "range": [1.2, 1.2, 1.2, 1.3, 2.4]}, "legend": null}}},
            {"transform": [{"filter": "datum.sup === ''"}], "mark": {"type": "text", "align": "left", "baseline": "middle", "fontSize": 18, "fontWeight": "bold", "color": "#111"}, "encoding": {"x": {"datum": 45, "type": "quantitative", "axis": null}, "text": {"field": "label"}}},
            {"transform": [{"filter": "datum.sup !== ''"}], "mark": {"type": "text", "align": "left", "baseline": "middle", "fontSize": 18, "fontWeight": "bold", "color": "#111", "dy": 5}, "encoding": {"x": {"datum": 45, "type": "quantitative", "axis": null}, "text": {"field": "label"}}},
            {"transform": [{"filter": "datum.sup !== ''"}], "mark": {"type": "text", "align": "left", "baseline": "middle", "fontSize": 12, "fontWeight": "bold", "color": "#111", "dy": -3}, "encoding": {"x": {"datum": 118, "type": "quantitative", "axis": null}, "text": {"field": "sup"}}}
          ]
        }
      ]
    },
    {
      "bounds": "flush",
      "spacing": 26,
      "resolve": {"scale": {"x": "independent", "y": "independent"}},
      "hconcat": [
        {
          "width": 395, "height": 264,
          "layer": [
            {"data": {"name": "main"}, "transform": [{"filter": "datum.organ === 'lungs'"}], "mark": {"type": "rule", "color": "#555", "strokeWidth": 1.3}, "encoding": {
              "x": {"field": "week", "type": "quantitative", "title": "Weeks after infection", "scale": {"domain": [0, 13], "nice": false, "zero": false}, "axis": {"values": [0, 4, 8, 12], "labelPadding": 0, "titlePadding": 0, "labelOverlap": false}},
              "y": {"field": "lo", "type": "quantitative", "title": "Log₁₀ RLU / lungs", "scale": {"domain": [2.5, 6.5], "nice": false, "zero": false}, "axis": {"values": [2.5, 3, 3.5, 4, 4.5, 5, 5.5, 6, 6.5], "format": ".1f", "labelOverlap": false}},
              "y2": {"field": "hi"}}},
            {"data": {"name": "limits"}, "transform": [{"filter": "datum.organ === 'lungs'"}], "mark": {"type": "rule", "color": "#333", "strokeWidth": 1, "strokeDash": [2, 2]}, "encoding": {"y": {"field": "limit", "type": "quantitative", "title": "Log₁₀ RLU / lungs", "axis": {"values": [2.5, 3, 3.5, 4, 4.5, 5, 5.5, 6, 6.5], "format": ".1f", "labelOverlap": false}}}},
            {"data": {"name": "main"}, "transform": [{"filter": "datum.organ === 'lungs'"}], "mark": {"type": "tick", "orient": "horizontal", "color": "#555", "size": 13, "thickness": 1.3, "opacity": 1}, "encoding": {"x": {"field": "week", "type": "quantitative", "title": "Weeks after infection", "axis": {"values": [0, 4, 8, 12], "labelPadding": 0, "titlePadding": 0, "labelOverlap": false}}, "y": {"field": "lo", "type": "quantitative", "title": "Log₁₀ RLU / lungs", "axis": {"values": [2.5, 3, 3.5, 4, 4.5, 5, 5.5, 6, 6.5], "format": ".1f", "labelOverlap": false}}}},
            {"data": {"name": "main"}, "transform": [{"filter": "datum.organ === 'lungs'"}], "mark": {"type": "tick", "orient": "horizontal", "color": "#555", "size": 13, "thickness": 1.3, "opacity": 1}, "encoding": {"x": {"field": "week", "type": "quantitative", "title": "Weeks after infection", "axis": {"values": [0, 4, 8, 12], "labelPadding": 0, "titlePadding": 0, "labelOverlap": false}}, "y": {"field": "hi", "type": "quantitative", "title": "Log₁₀ RLU / lungs", "axis": {"values": [2.5, 3, 3.5, 4, 4.5, 5, 5.5, 6, 6.5], "format": ".1f", "labelOverlap": false}}}},
            {"data": {"name": "main"}, "transform": [{"filter": "datum.organ === 'lungs'"}], "mark": {"type": "line", "color": "#1a1a1a"}, "encoding": {
              "x": {"field": "week", "type": "quantitative", "title": "Weeks after infection", "axis": {"values": [0, 4, 8, 12], "labelPadding": 0, "titlePadding": 0, "labelOverlap": false}},
              "y": {"field": "mean", "type": "quantitative", "title": "Log₁₀ RLU / lungs", "axis": {"values": [2.5, 3, 3.5, 4, 4.5, 5, 5.5, 6, 6.5], "format": ".1f", "labelOverlap": false}},
              "strokeDash": {"field": "strain", "type": "nominal", "scale": {"domain": ["C57BL/6", "C57BL/6bg/bg", "BALB/c", "C.D2", "DBA/2"], "range": [[1, 0], [1, 0], [9, 4, 2, 4], [4, 3], [10, 5]]}, "legend": null},
              "strokeWidth": {"field": "strain", "type": "nominal", "scale": {"type": "ordinal", "domain": ["C57BL/6", "C57BL/6bg/bg", "BALB/c", "C.D2", "DBA/2"], "range": [2.6, 1.1, 2.2, 2, 2.2]}, "legend": null}}},
            {"data": {"name": "main"}, "transform": [{"filter": "datum.organ === 'lungs'"}], "mark": {"type": "point", "stroke": "#111", "opacity": 1, "fillOpacity": 1, "strokeOpacity": 1}, "encoding": {
              "x": {"field": "week", "type": "quantitative", "title": "Weeks after infection", "axis": {"values": [0, 4, 8, 12], "labelPadding": 0, "titlePadding": 0, "labelOverlap": false}},
              "y": {"field": "mean", "type": "quantitative", "title": "Log₁₀ RLU / lungs", "axis": {"values": [2.5, 3, 3.5, 4, 4.5, 5, 5.5, 6, 6.5], "format": ".1f", "labelOverlap": false}},
              "shape": {"field": "strain", "type": "nominal", "scale": {"domain": ["C57BL/6", "C57BL/6bg/bg", "BALB/c", "C.D2", "DBA/2"], "range": ["circle", "circle", "diamond", "diamond", "M-1,-1L1,1M-1,1L1,-1"]}, "legend": null},
              "fill": {"field": "strain", "type": "nominal", "scale": {"domain": ["C57BL/6", "C57BL/6bg/bg", "BALB/c", "C.D2", "DBA/2"], "range": ["#3a3a3a", "#ffffff", "#111111", "#ffffff", "#111111"]}, "legend": null},
              "size": {"field": "strain", "type": "nominal", "scale": {"type": "ordinal", "domain": ["C57BL/6", "C57BL/6bg/bg", "BALB/c", "C.D2", "DBA/2"], "range": [150, 150, 130, 120, 160]}, "legend": null},
              "strokeWidth": {"field": "strain", "type": "nominal", "scale": {"type": "ordinal", "domain": ["C57BL/6", "C57BL/6bg/bg", "BALB/c", "C.D2", "DBA/2"], "range": [1.2, 1.2, 1.2, 1.3, 2.4]}, "legend": null}}}
          ]
        },
        {
          "width": 150, "height": 264,
          "data": {"name": "legend"},
          "encoding": {"y": {"field": "strain", "type": "nominal", "scale": {"type": "point", "padding": 0, "domain": ["C57BL/6", "C57BL/6bg/bg", "BALB/c", "C.D2", "DBA/2"], "range": [-9, 116]}, "axis": null}},
          "layer": [
            {"mark": {"type": "rule", "color": "#1a1a1a"}, "encoding": {
              "x": {"datum": 0, "type": "quantitative", "scale": {"domain": [0, 150], "range": [0, 150], "nice": false, "zero": false}, "axis": null},
              "x2": {"datum": 40},
              "strokeDash": {"field": "strain", "type": "nominal", "scale": {"domain": ["C57BL/6", "C57BL/6bg/bg", "BALB/c", "C.D2", "DBA/2"], "range": [[1, 0], [1, 0], [4, 3], [4, 3], [10, 5]]}, "legend": null},
              "strokeWidth": {"field": "strain", "type": "nominal", "scale": {"type": "ordinal", "domain": ["C57BL/6", "C57BL/6bg/bg", "BALB/c", "C.D2", "DBA/2"], "range": [2.6, 1.1, 2.2, 2, 2.2]}, "legend": null}}},
            {"mark": {"type": "point", "stroke": "#111", "opacity": 1, "fillOpacity": 1, "strokeOpacity": 1}, "encoding": {
              "x": {"datum": 20, "type": "quantitative", "axis": null},
              "shape": {"field": "strain", "type": "nominal", "scale": {"domain": ["C57BL/6", "C57BL/6bg/bg", "BALB/c", "C.D2", "DBA/2"], "range": ["circle", "circle", "diamond", "diamond", "M-1,-1L1,1M-1,1L1,-1"]}, "legend": null},
              "fill": {"field": "strain", "type": "nominal", "scale": {"domain": ["C57BL/6", "C57BL/6bg/bg", "BALB/c", "C.D2", "DBA/2"], "range": ["#3a3a3a", "#ffffff", "#111111", "#ffffff", "#111111"]}, "legend": null},
              "size": {"field": "strain", "type": "nominal", "scale": {"type": "ordinal", "domain": ["C57BL/6", "C57BL/6bg/bg", "BALB/c", "C.D2", "DBA/2"], "range": [150, 150, 130, 120, 160]}, "legend": null},
              "strokeWidth": {"field": "strain", "type": "nominal", "scale": {"type": "ordinal", "domain": ["C57BL/6", "C57BL/6bg/bg", "BALB/c", "C.D2", "DBA/2"], "range": [1.2, 1.2, 1.2, 1.3, 2.4]}, "legend": null}}},
            {"transform": [{"filter": "datum.sup === ''"}], "mark": {"type": "text", "align": "left", "baseline": "middle", "fontSize": 18, "fontWeight": "bold", "color": "#111"}, "encoding": {"x": {"datum": 45, "type": "quantitative", "axis": null}, "text": {"field": "label"}}},
            {"transform": [{"filter": "datum.sup !== ''"}], "mark": {"type": "text", "align": "left", "baseline": "middle", "fontSize": 18, "fontWeight": "bold", "color": "#111", "dy": 5}, "encoding": {"x": {"datum": 45, "type": "quantitative", "axis": null}, "text": {"field": "label"}}},
            {"transform": [{"filter": "datum.sup !== ''"}], "mark": {"type": "text", "align": "left", "baseline": "middle", "fontSize": 12, "fontWeight": "bold", "color": "#111", "dy": -3}, "encoding": {"x": {"datum": 118, "type": "quantitative", "axis": null}, "text": {"field": "sup"}}}
          ]
        }
      ]
    }
  ]
}
